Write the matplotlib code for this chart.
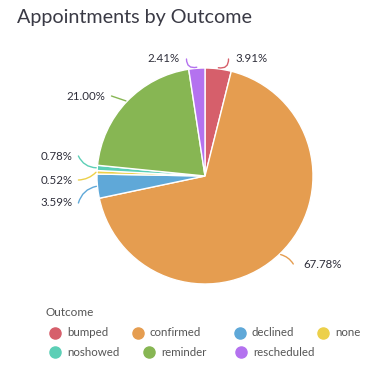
import matplotlib.pyplot as plt
import numpy as np

plt.rcParams['font.family'] = ['Lato', 'DejaVu Sans']

outcomes = ['bumped', 'confirmed', 'declined', 'none', 'noshowed', 'reminder', 'rescheduled']
shares = [3.91, 67.78, 3.59, 0.52, 0.78, 21.00, 2.41]
labels = ['3.91%', '67.78%', '3.59%', '0.52%', '0.78%', '21.00%', '2.41%']
colors = ['#d65f6b', '#e59d50', '#5fa8d8', '#ecd04a', '#5ccfb6', '#87b653', '#b472ef']

W, H = 388, 375
fig = plt.figure(figsize=(W / 100, H / 100), dpi=100)

# pie placement in pixels
cx, cy, R = 205, 176, 108
half = 150
ax = fig.add_axes([(cx - half) / W, (H - cy - half) / H, 2 * half / W, 2 * half / H])

wedges, _ = ax.pie(shares, colors=colors, startangle=90, counterclock=False, radius=1,
                   wedgeprops=dict(edgecolor='white', linewidth=1))
# pie() resets the limits, so set them afterwards
ax.set_xlim(-half / R, half / R)
ax.set_ylim(-half / R, half / R)
ax.set_aspect('equal')
ax.axis('off')

# label text anchors (pixels) and connector bend
lab_px = [(235, 59), (303, 264), (73, 203), (73, 180), (73, 156), (105, 96), (180, 59)]
lab_ha = ['left', 'left', 'right', 'right', 'right', 'right', 'right']
gaps = [0.06, 0.09, 0.05, 0.05, 0.05, 0.06, 0.06]
rads = [-0.6, 0.2, -0.3, 0.2, 0.3, 0.0, 0.6]

for w, lab, (px, py), ha, gap, rad, col in zip(wedges, labels, lab_px, lab_ha, gaps, rads, colors):
    ang = np.deg2rad((w.theta1 + w.theta2) / 2)
    x0, y0 = np.cos(ang), np.sin(ang)
    tx, ty = (px - cx) / R, (cy - py) / R
    end_x = tx - gap if ha == 'left' else tx + gap
    ax.annotate('', xy=(x0 * 1.01, y0 * 1.01), xytext=(end_x, ty),
                arrowprops=dict(arrowstyle='-', color=col, lw=1,
                                connectionstyle=f'arc3,rad={rad}', shrinkA=0, shrinkB=0))
    ax.text(tx, ty, lab, ha=ha, va='center', fontsize=8.3, color='#2e2e3a')

fig.text(17 / W, 1 - 18 / H, 'Appointments by Outcome', fontsize=14.2, color='#3a3a45',
         va='center', ha='left')

# legend
fig.text(45 / W, 1 - 313 / H, 'Outcome', fontsize=8.5, color='#555555', va='center')
leg_px = [(55, 333), (138, 333), (240, 333), (323, 333), (55, 352), (149, 352), (241, 352)]
for name, col, (mx, my) in zip(outcomes, colors, leg_px):
    fig.add_artist(plt.Line2D([mx / W], [1 - my / H], marker='o', markersize=8,
                              color=col, linestyle='none', transform=fig.transFigure))
    fig.text((mx + 12) / W, 1 - my / H, name, fontsize=8.3, color='#555555', va='center')

fig.savefig('out.png', dpi=100, facecolor='white')
